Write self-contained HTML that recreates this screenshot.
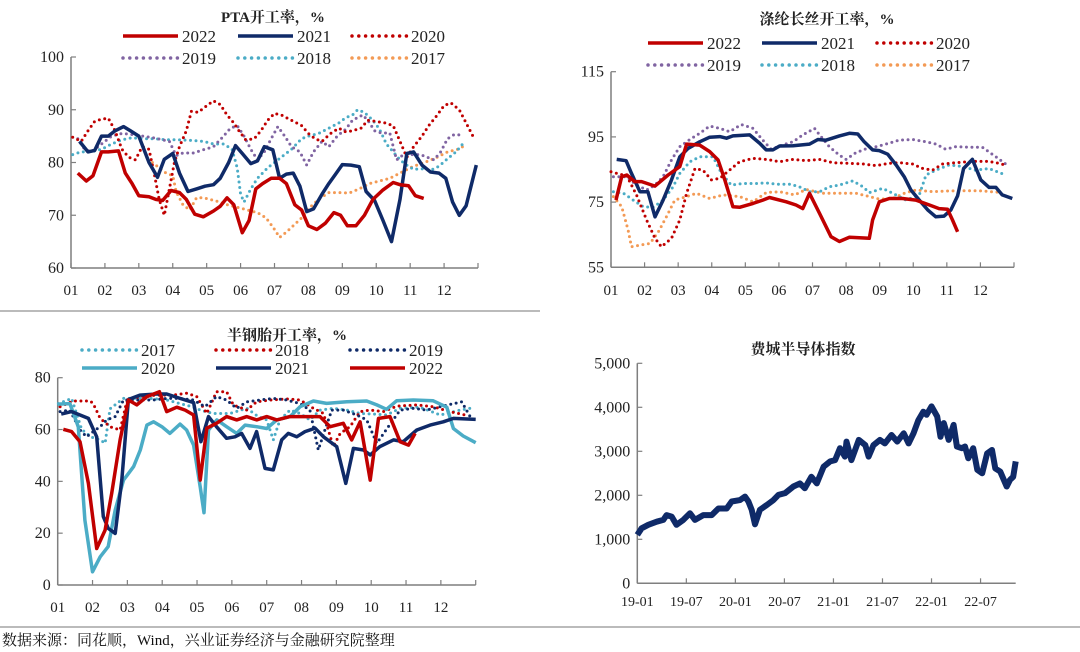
<!DOCTYPE html>
<html><head><meta charset="utf-8"><style>
html,body{margin:0;padding:0;background:#fff;}
svg{display:block;font-family:"Liberation Serif","Noto Serif CJK SC",serif;}
</style></head><body>
<svg id="chart" width="1080" height="652" viewBox="0 0 1080 652" xmlns="http://www.w3.org/2000/svg">
<line x1="0" y1="311" x2="540" y2="311" stroke="#777" stroke-width="1"/>
<line x1="0" y1="627" x2="1080" y2="627" stroke="#777" stroke-width="1"/>
<text x="2" y="645" font-size="15" fill="#111">数据来源：同花顺，Wind，兴业证券经济与金融研究院整理</text>
</svg>
<script>
// ---- Panel 1: PTA ----
const monthLabels = ["01","02","03","04","05","06","07","08","09","10","11","12"];
const ptaTicks = [60,70,80,90,100];
const pta2022 = [[0.2,78],[0.45,76.5],[0.65,77.5],[0.9,82],[1.1,82],[1.4,82.2],[1.6,78],[1.8,76],[2.0,73.7],[2.3,73.5],[2.5,73],[2.7,72.8],[2.95,74.7],[3.2,74.3],[3.4,73],[3.65,70.2],[3.9,69.7],[4.2,70.8],[4.4,71.7],[4.6,73.3],[4.8,72],[5.05,66.7],[5.25,69],[5.45,75],[5.65,76],[5.9,77],[6.15,77],[6.35,76],[6.6,72],[6.8,71],[7.0,68],[7.25,67.3],[7.5,68.5],[7.75,70.5],[7.95,70],[8.15,68],[8.4,68],[8.65,70],[8.9,73],[9.2,74.8],[9.5,76.2],[9.7,75.8],[9.95,75.6],[10.15,73.7],[10.4,73.2]];
const pta2021 = [[0.25,84],[0.5,82],[0.7,82.3],[0.9,85],[1.1,85],[1.3,86],[1.55,86.8],[1.75,86],[2.0,85],[2.3,80],[2.55,77.2],[2.75,80.6],[3.0,81.7],[3.2,78],[3.45,74.5],[3.7,75],[3.95,75.5],[4.2,75.8],[4.4,77],[4.65,80],[4.85,83.2],[5.05,81.7],[5.3,79.8],[5.5,80.3],[5.7,83],[5.95,82.4],[6.15,77],[6.35,77.8],[6.55,78],[6.75,75.5],[6.95,70.7],[7.15,71.2],[7.4,74],[7.6,76],[7.8,77.8],[8.0,79.6],[8.25,79.5],[8.5,79.2],[8.7,74.5],[8.95,72.8],[9.2,69],[9.45,65],[9.7,73],[9.9,81.7],[10.1,82],[10.35,79.5],[10.6,78.2],[10.85,78],[11.05,77],[11.25,72.5],[11.45,70],[11.65,71.8],[11.95,79.5]];
const pta2020 = [[0.05,84.8],[0.3,84],[0.5,86],[0.7,87.8],[0.9,88.2],[1.1,88.4],[1.3,86],[1.5,82.5],[1.7,81],[1.9,80.5],[2.1,83],[2.3,82.5],[2.45,78],[2.6,73],[2.75,70],[2.9,75],[3.05,80],[3.2,83],[3.4,86],[3.55,89.7],[3.75,89.5],[3.95,90.5],[4.2,91.7],[4.4,91],[4.6,89],[4.8,87.5],[4.95,86],[5.15,84.3],[5.4,84.5],[5.6,86],[5.8,88],[6.0,89.3],[6.2,89],[6.5,88],[6.8,87],[7.0,85.5],[7.2,84.5],[7.4,84],[7.65,85.5],[7.9,86.5],[8.1,85.8],[8.3,86],[8.55,86.5],[8.75,88],[9.0,87.8],[9.25,87.5],[9.5,87],[9.7,84],[9.9,81],[10.1,83],[10.35,85],[10.55,87],[10.8,89],[11.0,90.8],[11.2,91.3],[11.45,90],[11.65,87.5],[11.85,85]];
const pta2019 = [[0.2,84.5],[0.4,82.5],[0.6,82],[0.8,83],[1.0,84],[1.2,85],[1.5,85.5],[1.8,85.3],[2.1,85],[2.4,84.7],[2.7,84.3],[2.9,84],[3.1,81.3],[3.3,81.8],[3.6,81.8],[3.9,82.4],[4.2,83],[4.5,85],[4.7,86.5],[4.9,87],[5.1,85],[5.3,82.5],[5.5,80.5],[5.7,82],[5.9,84.5],[6.1,86.8],[6.3,85],[6.5,83],[6.75,82],[6.95,79.5],[7.15,82],[7.4,84],[7.6,83],[7.85,85],[8.1,86.3],[8.3,88],[8.6,89],[8.75,88],[8.95,86],[9.15,85.6],[9.4,85.6],[9.6,80.5],[9.8,81.5],[10.0,81.5],[10.3,81.5],[10.5,81],[10.7,80.5],[10.9,82],[11.1,84.5],[11.3,85.3],[11.55,85.2]];
const pta2018 = [[0.05,81.5],[0.3,82],[0.6,82],[0.9,82.5],[1.2,83.5],[1.5,84.3],[1.8,84.7],[2.1,84.5],[2.5,84.5],[2.8,84.3],[3.1,84.3],[3.5,84.2],[3.9,84],[4.2,83.5],[4.5,83.5],[4.75,82.5],[4.9,79],[5.0,74],[5.1,72.5],[5.3,75],[5.5,77],[5.8,79],[6.0,80],[6.2,81],[6.5,82.5],[6.8,84.5],[7.0,85],[7.3,85.5],[7.6,86.5],[7.9,87.5],[8.1,88.5],[8.3,89],[8.45,90],[8.65,89.5],[8.9,88],[9.1,86.3],[9.3,83.5],[9.5,82],[9.7,80.5],[9.9,79.5],[10.1,78.7],[10.35,78.8],[10.6,78.5],[10.85,79.3],[11.1,80.7],[11.35,82],[11.55,83.5]];
const pta2017 = [[2.4,80],[2.6,79],[2.8,78],[3.0,77.5],[3.1,74.5],[3.3,72],[3.5,71],[3.7,73.3],[3.9,73.3],[4.1,73],[4.4,72.5],[4.6,72],[4.9,71.5],[5.2,71],[5.5,70.5],[5.75,69.5],[5.95,67.8],[6.15,65.8],[6.35,66.8],[6.55,68],[6.8,69.5],[7.0,71.2],[7.3,73],[7.6,74.3],[7.9,74.3],[8.2,74.2],[8.5,75],[8.8,76],[9.1,76.5],[9.4,77],[9.7,78],[10.0,79],[10.2,79.5],[10.5,80.2],[10.8,81],[11.1,82],[11.4,82.5],[11.55,83]];

// ---- Panel 2: polyester filament ----
const polyTicks = [55,75,95,115];
const poly2022 = [[0.15,75.6],[0.32,82.8],[0.47,83.3],[0.71,81.3],[0.91,81.3],[1.31,79.9],[1.7,83.3],[2.05,85.9],[2.25,92.8],[2.64,92.5],[2.94,90.5],[3.19,87.9],[3.39,81.8],[3.63,73.6],[3.83,73.4],[4.23,74.6],[4.52,75.6],[4.72,76.4],[5.22,75.1],[5.51,74.1],[5.71,73],[5.91,77.7],[6.21,71.5],[6.55,64.4],[6.8,62.9],[7.1,64.2],[7.69,63.9],[7.79,69.5],[7.99,75.1],[8.29,76.1],[8.68,76.1],[9.08,75.6],[9.48,74.1],[9.77,73],[10.02,72.8],[10.17,69.5],[10.32,65.9]];
const poly2021 = [[0.17,88.1],[0.45,87.7],[0.61,83.8],[0.86,78.2],[1.1,78.2],[1.31,70.5],[1.55,75.6],[1.8,81.8],[2.05,88.9],[2.3,91.5],[2.64,93.5],[2.94,94.9],[3.24,95.1],[3.44,94.6],[3.63,95.3],[4.13,95.6],[4.43,93],[4.62,91],[4.82,91],[5.02,92.2],[5.42,92.3],[5.91,92.8],[6.16,94.2],[6.4,94],[6.8,95.3],[7.1,96.1],[7.35,95.9],[7.54,93.5],[7.79,91],[7.99,90.8],[8.24,89.7],[8.49,86.4],[8.73,82.8],[8.93,78.7],[9.18,75.6],[9.43,72.6],[9.67,70.5],[9.92,70.7],[10.12,72.6],[10.32,76.9],[10.5,85.3],[10.76,88.1],[11.01,81.8],[11.26,79.5],[11.46,79.5],[11.65,77.2],[11.95,76.1]];
const poly2020 = [[0,84.3],[0.47,83],[0.76,77.2],[1.06,69.5],[1.31,63.9],[1.5,61.3],[1.8,63.9],[2.05,69.5],[2.25,77.7],[2.5,85.3],[2.74,84.8],[2.99,81.8],[3.24,82.3],[3.53,84.8],[3.83,87.4],[4.23,88.4],[4.62,88.1],[5.02,87.4],[5.42,88.1],[5.81,87.7],[6.21,88.1],[6.6,87.1],[7.1,86.9],[7.5,86.7],[7.89,86.2],[8.29,86.9],[8.58,87.1],[8.98,86.7],[9.28,85.3],[9.57,84.8],[9.87,86.7],[10.27,87.1],[10.76,87.5],[11.26,87.5],[11.55,86.9],[11.8,86.2]];
const poly2019 = [[0.07,82.8],[0.47,82.8],[0.76,80.2],[1.06,78.7],[1.31,80.2],[1.55,82.8],[1.8,87.9],[2.05,92],[2.35,94.2],[2.64,96.1],[2.94,98.3],[3.24,97.6],[3.53,96.6],[3.88,98.8],[4.23,97.6],[4.52,94],[4.77,91.2],[5.02,92.2],[5.42,93.5],[5.71,95.6],[6.06,97.6],[6.21,95.6],[6.5,92],[6.8,89.4],[7,88.1],[7.25,89.9],[7.54,91.2],[7.89,92],[8.19,92.8],[8.58,94],[8.98,94.2],[9.38,93.5],[9.67,92.8],[9.97,91.2],[10.27,92],[10.76,91.8],[11.06,91.8],[11.46,88.9],[11.75,86.7]];
const poly2018 = [[0.07,78.2],[0.37,77.7],[0.66,75.6],[0.96,73.6],[1.26,73.4],[1.55,75.6],[1.85,79.7],[2.05,83.8],[2.35,87.4],[2.64,88.9],[3.04,88.9],[3.29,83.8],[3.58,80.2],[3.93,80.7],[4.33,80.7],[4.62,80.9],[4.92,80.5],[5.32,80.5],[5.61,79.7],[5.91,78.2],[6.21,78.2],[6.5,79.7],[6.8,80.2],[7.2,81.5],[7.5,79.7],[7.69,77.9],[8.09,79.2],[8.39,77.7],[8.78,75.6],[9.18,77.2],[9.38,83.3],[9.67,84.8],[10.07,86.4],[10.47,85.9],[10.86,84.8],[11.26,85.3],[11.75,83.3]];
const poly2017 = [[0.07,76.7],[0.32,73.6],[0.51,66.4],[0.61,61.3],[0.86,61.8],[1.16,62.3],[1.41,65.9],[1.65,70.5],[1.9,75.6],[2.25,76.7],[2.54,77.7],[2.94,76.1],[3.34,77.2],[3.83,76.7],[4.23,75.1],[4.62,77.9],[5.02,78.2],[5.47,77.2],[5.81,78.9],[6.31,77.7],[6.8,77.7],[7.3,77.7],[7.69,76.7],[7.99,75.9],[8.39,76.1],[8.78,77.9],[9.08,78.7],[9.57,78.2],[10.27,78.5],[10.96,78.5],[11.65,77.9]];

// ---- Panel 3: semi-steel tire ----
const tireTicks = [0,20,40,60,80];
const tire2020 = [[0,69.8],[0.35,70],[0.59,61],[0.78,25],[1.0,5.1],[1.22,10.9],[1.45,14.8],[1.65,28.9],[1.89,40.5],[2.18,45.7],[2.37,52.1],[2.56,61.7],[2.75,63],[2.99,61.1],[3.22,58.5],[3.51,62.1],[3.7,59.8],[3.9,54],[4.09,37.9],[4.2,27.9],[4.33,59.8],[4.57,63.7],[4.85,61.1],[5.14,58.5],[5.38,61.7],[5.71,61.1],[6,60.4],[6.29,63.7],[6.67,65],[6.96,68.8],[7.34,71],[7.72,70.1],[8.3,70.7],[8.87,71],[9.16,69.5],[9.44,67.8],[9.73,71.1],[10.21,71.4],[10.78,71.1],[11.17,68.6],[11.36,60.4],[11.64,57.5],[12,54.9]];
const tire2021 = [[0.1,66],[0.4,66.9],[0.64,65.6],[0.88,64.3],[1.12,57.2],[1.31,26.4],[1.45,21.9],[1.65,19.9],[1.84,40.5],[2.03,71.6],[2.36,73.3],[2.84,73.7],[3.13,73.7],[3.51,72],[3.9,70.4],[4.11,55.3],[4.33,65],[4.56,61.1],[4.85,56.6],[5.09,57.2],[5.28,58.5],[5.52,52.7],[5.71,59.2],[5.95,45],[6.19,44.4],[6.43,56],[6.62,58.5],[6.86,57.2],[7.1,59.2],[7.39,60.5],[7.63,57.2],[8.01,53.4],[8.27,39.2],[8.49,52.7],[8.78,52.1],[8.97,50.2],[9.25,53.4],[9.64,56],[9.92,55.3],[10.31,59.8],[10.69,61.7],[11.07,63],[11.36,64.3],[12,63.9]];
const tire2022 = [[0.16,60.1],[0.4,59.2],[0.64,55.3],[0.88,39.2],[1.12,14.1],[1.36,21.2],[1.55,35.4],[1.79,56],[2.03,71.4],[2.27,69.5],[2.56,72.7],[2.92,74.6],[3.13,66.9],[3.42,68.6],[3.66,67.5],[3.9,65.6],[4.09,40.5],[4.28,60.5],[4.56,62.4],[4.85,65],[5.14,63.7],[5.43,65],[5.71,63.7],[6,65],[6.29,63.7],[6.67,65],[7.15,65],[7.53,65],[7.82,61.1],[8.2,62.4],[8.44,56],[8.68,63],[8.97,40.5],[9.21,64.3],[9.54,65],[9.83,55.3],[10.07,54],[10.26,58.5]];
const tire2017 = [[0.02,70],[0.4,72],[0.69,60],[0.98,57],[1.22,56],[1.36,54.7],[1.5,68],[1.89,72],[2.17,72],[2.65,72],[3.13,71.4],[3.51,70],[3.85,68.8],[4.09,67.5],[4.47,66.2],[4.95,66.2],[5.43,68.2],[5.76,65],[6,63.7],[6.19,56],[6.38,63.7],[6.67,67.5],[6.96,66.2],[7.24,63.7],[7.53,67.5],[7.91,68.2],[8.3,67.5],[8.68,66.2],[9.06,66],[9.44,65.6],[9.83,68.2],[10.4,68.6],[10.98,65.6],[11.55,67.5],[11.84,68.2]];
const tire2018 = [[0.07,68.8],[0.45,71],[0.93,71],[1.02,70],[1.22,64.3],[1.5,61.1],[1.79,59.8],[1.98,70.7],[2.36,72.7],[2.84,73.3],[3.32,73.3],[3.7,74],[3.99,72.7],[4.28,66.2],[4.56,74.6],[4.85,74.6],[5.04,69.5],[5.43,67.5],[5.71,70.7],[6.1,71.4],[6.57,71.8],[6.96,71.4],[7.34,68.2],[7.63,66.2],[7.91,53.4],[8.11,58.5],[8.39,61.1],[8.68,66.9],[8.97,67.5],[9.35,66.9],[9.73,69],[10.31,69.5],[10.78,68.8],[11.26,66.9],[11.69,65.6]];
const tire2019 = [[0.07,66.9],[0.35,67.5],[0.64,59.8],[0.83,57.2],[1.02,59.2],[1.22,61.1],[1.41,63.7],[1.65,65],[1.89,71.4],[2.27,71.4],[2.75,71.4],[3.13,72],[3.51,72],[3.89,71.4],[4.23,68.8],[4.56,72.7],[4.85,71.4],[5.14,68.2],[5.43,70.7],[5.81,71.4],[6.19,72],[6.57,71.4],[6.96,70],[7.24,67.5],[7.48,52.1],[7.67,59.8],[7.87,67.5],[8.2,67.5],[8.58,65.6],[8.87,63.7],[9.16,54.7],[9.49,61.1],[9.83,67.5],[10.21,68.2],[10.59,67.5],[10.98,68.8],[11.6,70.7],[11.84,65]];

// ---- Panel 4: SOX (month index from 2019-01) ----
const soxTicks = [0,1000,2000,3000,4000,5000];
const soxTickLabels = ["0","1,000","2,000","3,000","4,000","5,000"];
const soxDateLabels = ["19-01","19-07","20-01","20-07","21-01","21-07","22-01","22-07"];
const soxMonths = [0,0.53,1.35,2.37,3.18,3.59,4.2,4.8,5.63,6.45,7.06,8.08,9.1,9.92,10.94,11.55,12.57,13.18,13.59,14.0,14.4,15.0,15.84,16.65,17.27,18.08,19.1,19.9,20.5,21.3,21.96,22.8,23.6,24.2,24.8,25.4,25.6,26.2,27.1,27.9,28.3,28.9,29.7,30.3,31.1,31.8,32.6,33.2,33.8,34.4,35.0,35.4,36.0,36.7,37.1,37.5,38.1,38.7,39.1,39.7,40.1,40.5,41.1,41.6,42.2,42.8,43.4,43.8,44.4,45.2,45.6,46.0,46.3];
const soxValues = [1100,1250,1330,1400,1440,1550,1515,1330,1440,1590,1440,1550,1550,1700,1700,1860,1890,1970,1860,1670,1340,1670,1780,1890,2010,2050,2200,2270,2160,2420,2270,2650,2770,2800,3070,2880,3220,2800,3260,3140,2880,3140,3260,3180,3370,3220,3410,3180,3410,3710,3900,3830,4020,3790,3330,3640,3260,3600,3110,3070,3110,2840,3070,2580,2500,2950,3030,2610,2540,2200,2350,2420,2770];

const svg = document.getElementById('chart');
const NS = 'http://www.w3.org/2000/svg';
function el(tag, attrs, parent){
  const e = document.createElementNS(NS, tag);
  for (const k in attrs) e.setAttribute(k, attrs[k]);
  (parent||svg).appendChild(e);
  return e;
}
const C = {red:'#C00000', navy:'#0F2A68', purple:'#8064A2', teal:'#4BACC6', orange:'#F39A55'};

function makeAxes(p){
  const g = el('g', {});
  
  
  el('line', {x1:p.x0, y1:p.yTop, x2:p.x0, y2:p.yBot, stroke:'#7f7f7f', 'stroke-width':1.5}, g);
  el('line', {x1:p.x0, y1:p.yBot, x2:p.x1, y2:p.yBot, stroke:'#7f7f7f', 'stroke-width':1.5}, g);
  return g;
}
function drawSeries(p, pts, color, dotted, name, w){
  const d = pts.map((q,i)=>(i?'L':'M')+p.sx(q[0]).toFixed(1)+','+p.sy(q[1]).toFixed(1)).join('');
  const path = el('path', {d:d, fill:'none', stroke:color, 'stroke-width': w || (dotted?3:3.5), 'stroke-linejoin':'round', 'stroke-linecap': dotted?'round':'butt'});
  if (dotted) path.setAttribute('stroke-dasharray','0 5.5');
  
  
}
function legendEntry(x, y, color, dotted, label, name){
  const g = el('g', {});
  
  
  const ln = el('line', {x1:x, y1:y, x2:x+55, y2:y, stroke:color, 'stroke-width':3.5, 'stroke-linecap':dotted?'round':'butt'}, g);
  if (dotted) ln.setAttribute('stroke-dasharray','0 6.8');
  const t = el('text', {x:x+59, y:y+6, 'font-size':17, fill:'#222'}, g);
  t.textContent = label;
}
function title(x, y, txt, name){
  const t = el('text', {x:x, y:y, 'text-anchor':'middle', 'font-size':15, 'font-weight':'bold', fill:'#222'});
  t.textContent = txt;
  
  
}
function monthAxis(p, labelY){
  for (let i=0;i<=12;i++){
    const x = p.x0 + i*(p.x1-p.x0)/12;
    const tk = el('line', {x1:x, y1:p.yBot, x2:x, y2:p.yBot-5, stroke:'#7f7f7f', 'stroke-width':1.2});
    
    
    if (i<12){
      const t = el('text', {x:x, y:labelY, 'text-anchor':'middle', 'font-size':15, fill:'#222'});
      t.textContent = monthLabels[i];
      
      
    }
  }
}
function valueAxis(p, ticks, labels){
  ticks.forEach((v,i)=>{
    const y = p.sy(v);
    const tk = el('line', {x1:p.x0, y1:y, x2:p.x0+5, y2:y, stroke:'#7f7f7f', 'stroke-width':1.2});
    
    
    const t = el('text', {x:p.x0-7, y:y+5, 'text-anchor':'end', 'font-size':16, fill:'#222'});
    t.textContent = labels ? labels[i] : String(v);
    
    
  });
}
function panel(name, x0, x1, yTop, yBot, xMin, xMax, vMin, vMax){
  return {name, x0, x1, yTop, yBot,
    sx: m => x0 + (m-xMin)/(xMax-xMin)*(x1-x0),
    sy: v => yBot - (v-vMin)/(vMax-vMin)*(yBot-yTop)};
}

// Panel 1
const p1 = panel('pta', 71, 478, 57, 268, 0, 12, 60, 100);
makeAxes(p1); valueAxis(p1, ptaTicks); monthAxis(p1, 295);
title(273, 22, 'PTA开工率，%', 'pta-title');
legendEntry(123,36,C.red,false,'2022','pta-legend-2022');
legendEntry(238,36,C.navy,false,'2021','pta-legend-2021');
legendEntry(352,36,C.red,true,'2020','pta-legend-2020');
legendEntry(123,58,C.purple,true,'2019','pta-legend-2019');
legendEntry(238,58,C.teal,true,'2018','pta-legend-2018');
legendEntry(352,58,C.orange,true,'2017','pta-legend-2017');
drawSeries(p1, pta2017, C.orange, true, 'pta-line-2017');
drawSeries(p1, pta2018, C.teal, true, 'pta-line-2018');
drawSeries(p1, pta2019, C.purple, true, 'pta-line-2019');
drawSeries(p1, pta2020, C.red, true, 'pta-line-2020');
drawSeries(p1, pta2021, C.navy, false, 'pta-line-2021');
drawSeries(p1, pta2022, C.red, false, 'pta-line-2022');

// Panel 2
const p2 = panel('polyester', 611, 1014, 71.7, 267.3, 0, 12, 55, 115);
makeAxes(p2); valueAxis(p2, polyTicks); monthAxis(p2, 295);
title(827, 24, '涤纶长丝开工率，%', 'polyester-title');
legendEntry(648,43,C.red,false,'2022','polyester-legend-2022');
legendEntry(762,43,C.navy,false,'2021','polyester-legend-2021');
legendEntry(877,43,C.red,true,'2020','polyester-legend-2020');
legendEntry(648,65,C.purple,true,'2019','polyester-legend-2019');
legendEntry(762,65,C.teal,true,'2018','polyester-legend-2018');
legendEntry(877,65,C.orange,true,'2017','polyester-legend-2017');
drawSeries(p2, poly2017, C.orange, true, 'polyester-line-2017');
drawSeries(p2, poly2018, C.teal, true, 'polyester-line-2018');
drawSeries(p2, poly2019, C.purple, true, 'polyester-line-2019');
drawSeries(p2, poly2020, C.red, true, 'polyester-line-2020');
drawSeries(p2, poly2021, C.navy, false, 'polyester-line-2021');
drawSeries(p2, poly2022, C.red, false, 'polyester-line-2022');

// Panel 3
const p3 = panel('tire', 57.7, 475.7, 377.7, 585, 0, 12, 0, 80);
makeAxes(p3); valueAxis(p3, tireTicks); monthAxis(p3, 612);
title(287, 340, '半钢胎开工率，%', 'tire-title');
legendEntry(82,350,C.teal,true,'2017','tire-legend-2017');
legendEntry(216,350,C.red,true,'2018','tire-legend-2018');
legendEntry(350,350,C.navy,true,'2019','tire-legend-2019');
legendEntry(82,368,C.teal,false,'2020','tire-legend-2020');
legendEntry(216,368,C.navy,false,'2021','tire-legend-2021');
legendEntry(350,368,C.red,false,'2022','tire-legend-2022');
drawSeries(p3, tire2017, C.teal, true, 'tire-line-2017');
drawSeries(p3, tire2018, C.red, true, 'tire-line-2018');
drawSeries(p3, tire2019, C.navy, true, 'tire-line-2019');
drawSeries(p3, tire2020, C.teal, false, 'tire-line-2020');
drawSeries(p3, tire2021, C.navy, false, 'tire-line-2021');
drawSeries(p3, tire2022, C.red, false, 'tire-line-2022');

// Panel 4
const p4 = panel('sox', 637.3, 1015.7, 363.3, 583.3, 0, 46.3, 0, 5000);
makeAxes(p4); valueAxis(p4, soxTicks, soxTickLabels);
soxDateLabels.forEach((lab,i)=>{
  const x = p4.sx(i*6);
  const tk = el('line', {x1:x, y1:p4.yBot, x2:x, y2:p4.yBot-5, stroke:'#7f7f7f', 'stroke-width':1.2});
  
  
  const t = el('text', {x:x, y:606, 'text-anchor':'middle', 'font-size':14, fill:'#222'});
  t.textContent = lab;
  
  
});
title(803, 354, '费城半导体指数', 'sox-title');
drawSeries(p4, soxMonths.map((m,i)=>[m, soxValues[i]]), C.navy, false, 'sox-line', 6);
</script>
</body></html>
